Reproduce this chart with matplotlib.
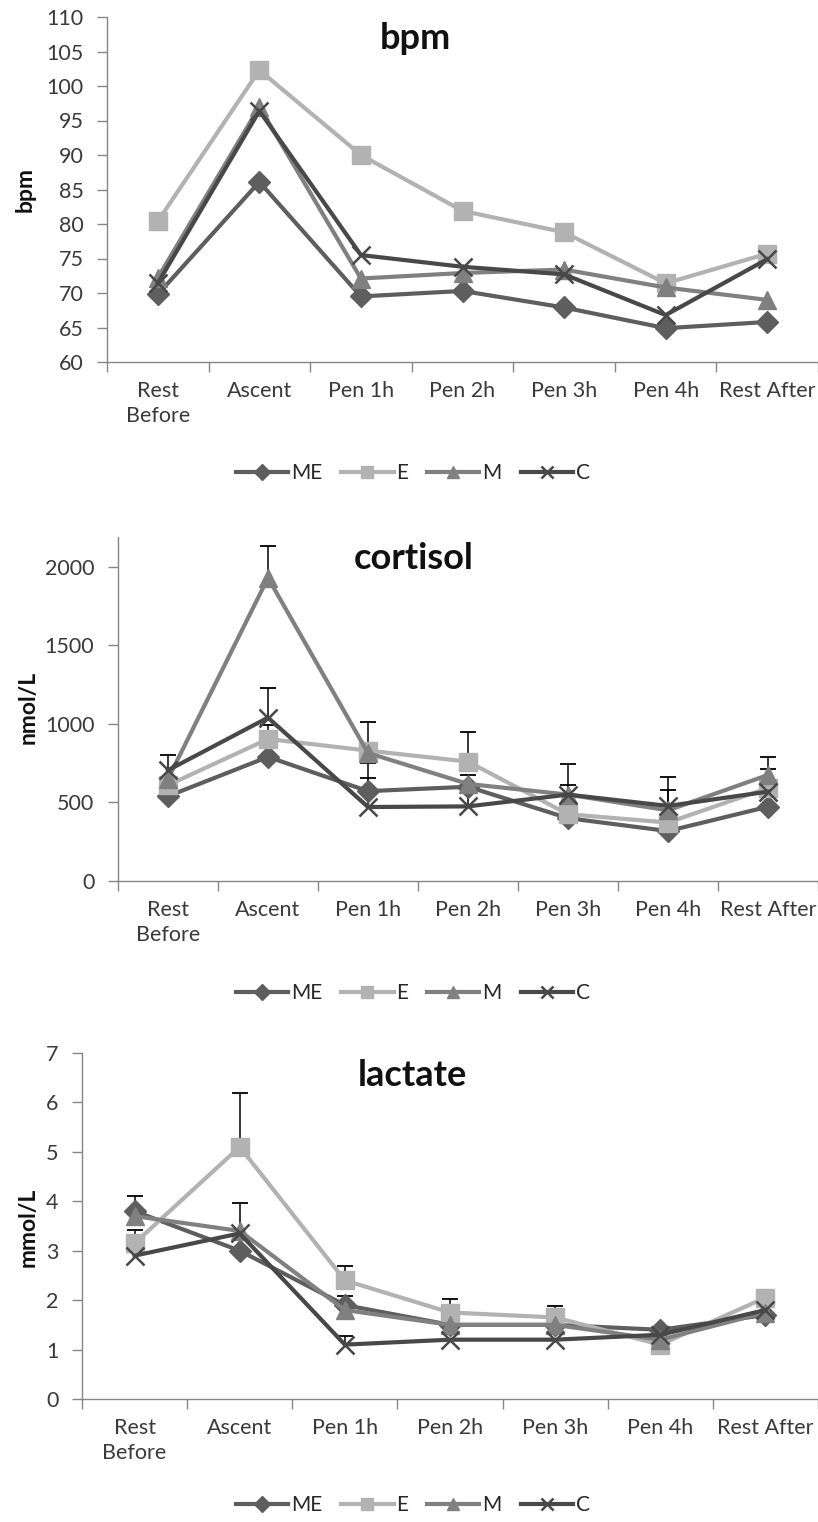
import numpy as np
import matplotlib.pyplot as plt

plt.rcParams['font.family'] = ['Lato', 'DejaVu Sans']

# figure size in pixels
W, H = 818, 1522

categories = ["Rest\nBefore", "Ascent", "Pen 1h", "Pen 2h", "Pen 3h", "Pen 4h", "Rest After"]
groups = ["ME", "E", "M", "C"]

# heart rate [bpm]
bpm_ME = [69.8, 86.1, 69.5, 70.3, 67.9, 64.9, 65.8]
bpm_E = [80.4, 102.3, 90.0, 81.9, 78.8, 71.4, 75.7]
bpm_M = [72.2, 97.0, 72.1, 72.9, 73.4, 70.8, 69.0]
bpm_C = [71.4, 96.4, 75.5, 73.8, 72.7, 66.8, 74.9]

# cortisol [nmol/L]
cort_ME = [540, 790, 572, 600, 400, 318, 473]
cort_E = [610, 904, 830, 760, 425, 372, 592]
cort_M = [650, 1930, 815, 618, 550, 450, 675]
cort_C = [705, 1040, 471, 475, 550, 478, 569]
# upper error bars (0 = not drawn)
cort_err_ME = [0, 204, 181, 0, 0, 0, 0]
cort_err_E = [0, 0, 185, 191, 186, 208, 199]
cort_err_M = [0, 204, 0, 0, 0, 0, 0]
cort_err_C = [98, 189, 185, 200, 195, 186, 144]

# lactate [mmol/L]
lac_ME = [3.8, 3.0, 1.9, 1.5, 1.5, 1.4, 1.7]
lac_E = [3.15, 5.1, 2.4, 1.75, 1.65, 1.1, 2.05]
lac_M = [3.7, 3.4, 1.8, 1.5, 1.5, 1.2, 1.75]
lac_C = [2.9, 3.35, 1.1, 1.2, 1.2, 1.3, 1.8]
lac_err_ME = [0.3, 0, 0.18, 0, 0, 0, 0]
lac_err_E = [0.26, 1.1, 0.3, 0.27, 0.24, 0, 0]
lac_err_M = [0, 0.56, 0, 0, 0, 0, 0]
lac_err_C = [0, 0, 0.17, 0, 0, 0, 0]

colors = {"ME": "#5e5e5e", "E": "#b2b2b2", "M": "#808080", "C": "#484848"}
markers = {"ME": "D", "E": "s", "M": "^", "C": "x"}
msizes = {"ME": 11, "E": 12.5, "M": 13, "C": 13}

AXIS_COL = "#868686"
TICK_COL = "#3a3a3a"

fig = plt.figure(figsize=(W / 100, H / 100), dpi=100)


def fx(px):
    return px / W


def fy(py):
    return 1 - py / H


def panel(left, top, bottom, series, errs, ylim, yticks, ylabel, title, title_pos, ylabel_pos, legend_y):
    ax = fig.add_axes([fx(left), fy(bottom), fx(W - left), (bottom - top) / H])
    x = np.arange(len(categories))

    # error bars (upper only), drawn under the lines
    if errs is not None:
        for y, e in zip(series, errs):
            y = np.asarray(y, float)
            e = np.asarray(e, float)
            idx = e > 0
            ax.vlines(x[idx], y[idx], y[idx] + e[idx], color="black", lw=1.1, zorder=1)
            ax.plot(x[idx], y[idx] + e[idx], ls="none", marker="_", ms=11, mew=1.3,
                    color="black", zorder=1)

    for g, y in zip(groups, series):
        c = colors[g]
        ax.plot(x, y, color=c, lw=3, marker=markers[g], ms=msizes[g],
                mfc=c, mec=c, mew=1.8 if g == "C" else 1, label=g, zorder=3)

    ax.set_xlim(-0.5, len(categories) - 0.5)
    ax.set_ylim(*ylim)
    ax.set_yticks(yticks)
    ax.set_xticks(x, categories)
    ax.set_xticks(np.arange(-0.5, len(categories), 1), minor=True)
    ax.tick_params(axis="x", which="major", length=0, pad=14, labelsize=15.5, labelcolor=TICK_COL)
    ax.tick_params(axis="x", which="minor", length=7, width=1, color=AXIS_COL)
    ax.tick_params(axis="y", length=7, width=1, color=AXIS_COL, pad=10,
                   labelsize=15.5, labelcolor=TICK_COL)
    for lab in ax.get_xticklabels():
        lab.set_linespacing(1.3)

    for s in ["top", "right"]:
        ax.spines[s].set_visible(False)
    for s in ["left", "bottom"]:
        ax.spines[s].set_color(AXIS_COL)
        ax.spines[s].set_linewidth(1)

    fig.text(fx(title_pos[0]), fy(title_pos[1]), title, ha="center", va="baseline",
             fontsize=26, fontweight="bold", color="#111111")
    fig.text(fx(ylabel_pos[0]), fy(ylabel_pos[1]), ylabel, ha="center", va="center",
             rotation=90, fontsize=16.5, fontweight="bold", color="#111111")

    handles, labels = ax.get_legend_handles_labels()
    fig.legend(handles, labels, loc="center", bbox_to_anchor=(fx(413), fy(legend_y)),
               ncol=4, frameon=False, fontsize=15, handlelength=2.5, handletextpad=0.15,
               columnspacing=0.9, markerscale=0.7, labelcolor="#262626")
    return ax


panel(107, 17, 362,
      [bpm_ME, bpm_E, bpm_M, bpm_C], None,
      (60, 110), np.arange(60, 111, 5), "bpm", "bpm", (415, 49), (25, 189), 473)

panel(118, 537, 881,
      [cort_ME, cort_E, cort_M, cort_C],
      [cort_err_ME, cort_err_E, cort_err_M, cort_err_C],
      (0, 2190), np.arange(0, 2001, 500), "nmol/L", "cortisol", (414, 569), (28, 707), 993)

panel(82, 1053, 1399,
      [lac_ME, lac_E, lac_M, lac_C],
      [lac_err_ME, lac_err_E, lac_err_M, lac_err_C],
      (0, 7), np.arange(0, 8, 1), "mmol/L", "lactate", (412, 1086), (28, 1227), 1505)

fig.savefig("out.png", dpi=100)
